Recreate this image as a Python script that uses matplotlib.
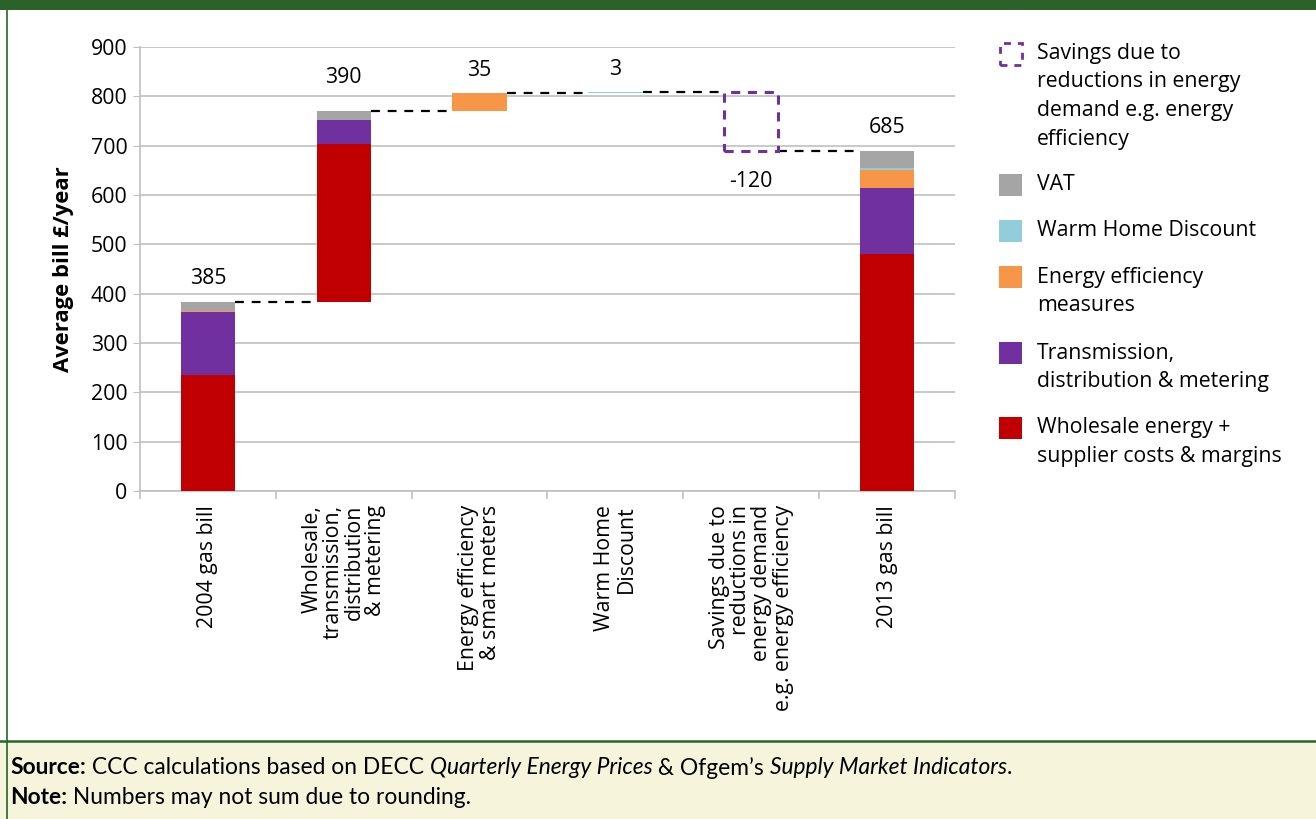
import numpy as np
import matplotlib
matplotlib.use("Agg")
import matplotlib.pyplot as plt
from matplotlib.patches import Rectangle
from matplotlib.lines import Line2D

# ---------------------------------------------------------------------------
# Data (£/year)
# ---------------------------------------------------------------------------
categories = [
    "2004 gas bill",
    "Wholesale,\ntransmission,\ndistribution\n& metering",
    "Energy efficiency\n& smart meters",
    "Warm Home\nDiscount",
    "Savings due to\nreductions in\nenergy demand\ne.g. energy efficiency",
    "2013 gas bill",
]
wholesale = [235, 320, 0, 0, 0, 480]
transmission = [128, 50, 0, 0, 0, 135]
efficiency = [2, 0, 35, 0, 0, 35]
warm_home = [0, 0, 0, 3, 0, 5]
vat = [18, 18, 0, 0, 0, 34]
savings = [0, 0, 0, 0, -120, 0]
is_total = [True, False, False, False, False, True]
value_labels = ["385", "390", "35", "3", "-120", "685"]

legend_labels = [
    "Savings due to\nreductions in energy\ndemand e.g. energy\nefficiency",
    "VAT",
    "Warm Home Discount",
    "Energy efficiency\nmeasures",
    "Transmission,\ndistribution & metering",
    "Wholesale energy +\nsupplier costs & margins",
]

RED = "#c00000"
PURPLE = "#7030a0"
ORANGE = "#f79646"
LBLUE = "#92cddc"
GREY = "#a5a5a5"
GREEN = "#2b6229"
PALE = "#f6f5dc"

W, H = 1316, 819
FONT = "Open Sans"
FS = 15.3
plt.rcParams["font.family"] = [FONT, "DejaVu Sans"]


def fx(x):
    return x / W


def fy(y):
    return 1 - y / H


fig = plt.figure(figsize=(W / 100, H / 100), dpi=100)
fig.patch.set_facecolor("white")

# frame decorations
fig.add_artist(Rectangle((0, fy(10)), 1, 10 / H, transform=fig.transFigure,
                         facecolor=GREEN, edgecolor="none"))
fig.add_artist(Rectangle((0, 0), 1, fy(741), transform=fig.transFigure,
                         facecolor=PALE, edgecolor="none"))
fig.add_artist(Line2D([0, 1], [fy(741), fy(741)], transform=fig.transFigure,
                      color=GREEN, lw=1.8))
fig.add_artist(Line2D([fx(7), fx(7)], [0, fy(10)], transform=fig.transFigure,
                      color=GREEN, lw=1.2))

ax = fig.add_axes([fx(140), fy(491), fx(955) - fx(140), fy(47) - fy(491)])

n = len(categories)
x = np.arange(n)
bw = 0.4

# waterfall bases
totals = [wholesale[i] + transmission[i] + efficiency[i] + warm_home[i] + vat[i] + savings[i]
          for i in range(n)]
bases = []
level = 0
for i in range(n):
    if is_total[i]:
        bases.append(0)
        level = totals[i]
    else:
        if totals[i] >= 0:
            bases.append(level)
        else:
            bases.append(level + totals[i])
        level += totals[i]

bottom = np.array(bases, dtype=float)
for vals, col in [(wholesale, RED), (transmission, PURPLE), (efficiency, ORANGE),
                  (warm_home, LBLUE), (vat, GREY)]:
    v = np.array(vals, dtype=float)
    ax.bar(x, v, bw, bottom=bottom, color=col, edgecolor="none", zorder=3)
    bottom += v

# savings box (dashed outline)
for i in range(n):
    if savings[i] < 0:
        ax.add_patch(Rectangle((x[i] - bw / 2, bases[i]), bw, -savings[i],
                               fill=False, edgecolor=PURPLE, lw=2.2,
                               linestyle=(0, (3, 2.5)), zorder=4))

# connectors
tops = []
level = 0
for i in range(n):
    if is_total[i]:
        level = totals[i]
    else:
        level += totals[i]
    tops.append(level)
for i in range(n - 1):
    ax.plot([x[i] + bw / 2, x[i + 1] - bw / 2], [tops[i], tops[i]],
            color="black", lw=1.6, linestyle=(0, (4, 3.5)), zorder=2)

# value labels
label_offsets = [24, 33, 23, 22, -30, 24]
for i in range(n):
    if savings[i] < 0:
        yv = bases[i]
    else:
        yv = bases[i] + totals[i]
    ax.annotate(value_labels[i], (x[i], yv), xytext=(0, label_offsets[i]),
                textcoords="offset pixels", ha="center", va="center",
                fontsize=FS, color="black")

ax.set_xlim(-0.5, n - 0.5)
ax.set_ylim(0, 900)
ax.set_yticks(np.arange(0, 901, 100))
ax.yaxis.grid(True, color="#c0c0c0", lw=1.2, zorder=0)
ax.set_axisbelow(True)
for s in ["top", "right"]:
    ax.spines[s].set_visible(False)
ax.spines["left"].set_color("#c0c0c0")
ax.spines["bottom"].set_color("#c0c0c0")
ax.spines["left"].set_linewidth(1.2)
ax.spines["bottom"].set_linewidth(1.2)
ax.tick_params(axis="y", length=5, color="#c0c0c0", labelsize=FS, pad=4)
ax.set_xticks(x)
ax.set_xticklabels(categories, rotation=90, ha="center", va="top",
                   multialignment="right", fontsize=FS, linespacing=1.02)
ax.tick_params(axis="x", which="major", length=0, pad=10)
ax.set_xticks(np.arange(-0.5, n, 1.0), minor=True)
ax.tick_params(axis="x", which="minor", length=6, color="#c0c0c0", width=1.2)
ax.set_ylabel("Average bill £/year", fontsize=FS + 0.5, fontweight="bold", labelpad=12)

# legend (drawn manually)
leg_colors = [None, GREY, LBLUE, ORANGE, PURPLE, RED]
leg_first_line = [53, 185, 231, 277, 353, 428]
line_gap = 28.7
for lab, col, y0 in zip(legend_labels, leg_colors, leg_first_line):
    if col is None:
        fig.add_artist(Rectangle((fx(1000), fy(65)), 22 / W, 22 / H,
                                 transform=fig.transFigure, fill=False,
                                 edgecolor=PURPLE, lw=2, linestyle=(0, (2.5, 2.5))))
    else:
        fig.add_artist(Rectangle((fx(999), fy(y0 + 11)), 23 / W, 22 / H,
                                 transform=fig.transFigure, facecolor=col,
                                 edgecolor="none"))
    for k, line in enumerate(lab.split("\n")):
        fig.text(fx(1037), fy(y0 + k * line_gap), line, ha="left", va="center",
                 fontsize=FS)

# footer with mixed styles
renderer = fig.canvas.get_renderer()
footer_lines = [
    [("Source:", "bold", "normal"), (" CCC calculations based on DECC ", "normal", "normal"),
     ("Quarterly Energy Prices", "normal", "italic"), (" & Ofgem\u2019s ", "normal", "normal"),
     ("Supply Market Indicators", "normal", "italic"), (".", "normal", "normal")],
    [("Note:", "bold", "normal"), (" Numbers may not sum due to rounding.", "normal", "normal")],
]
for yy, pieces in zip([768, 797], footer_lines):
    xpos = fx(10)
    for txt, wt, st in pieces:
        t = fig.text(xpos, fy(yy), txt, ha="left", va="center", fontsize=16.4,
                     fontweight=wt, fontstyle=st, family="Lato")
        bb = t.get_window_extent(renderer=renderer)
        xpos += bb.width / W

fig.savefig("out.png", dpi=100)
